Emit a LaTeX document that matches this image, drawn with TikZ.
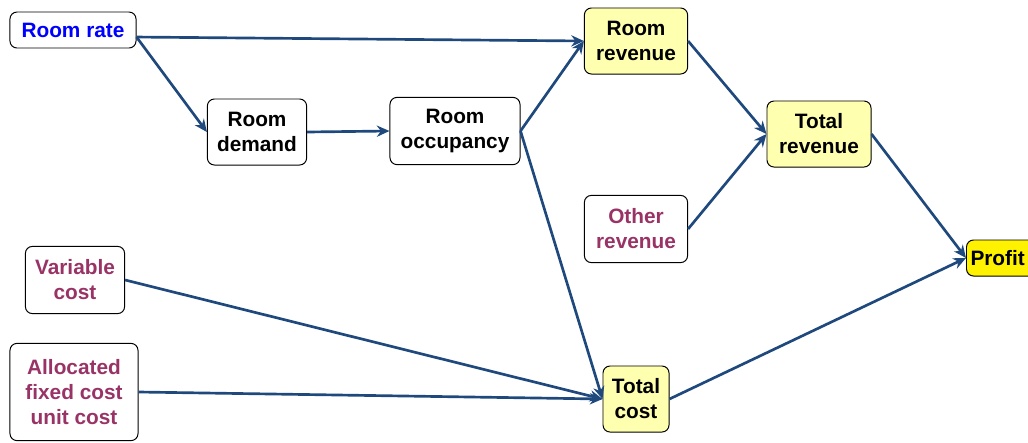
\documentclass[tikz,border=0pt]{standalone}
\usepackage{fontspec}
\setmainfont{Liberation Sans}
\usetikzlibrary{positioning,arrows.meta}

\definecolor{linkblue}{RGB}{31,73,125}
\definecolor{inblue}{RGB}{0,0,255}
\definecolor{inred}{RGB}{153,51,102}
\definecolor{paleyellow}{RGB}{255,255,176}

\tikzset{
    box/.style={draw, rounded corners=5pt, line width=.7pt, align=center, inner sep=0pt,
        font=\fontsize{14.8}{17.8}\selectfont\bfseries},
    calc/.style={box, fill=paleyellow},
    link/.style={linkblue, line width=1.9pt, -{Stealth[length=9pt,width=8pt]}},
}

\begin{document}
\begin{tikzpicture}[x=.025cm, y=-.025cm]
    \useasboundingbox (0,0) rectangle (1028,442);

    % inputs
    \node[box, text=inblue, minimum width=3.15cm, minimum height=.9cm] (rate) at (73,30) {Room rate};
    \node[box, text=inred, minimum width=2.48cm, minimum height=1.68cm] (varcost) at (75,280) {Variable\\cost};
    \node[box, text=inred, minimum width=3.2cm, minimum height=2.43cm] (fixcost) at (74,392) {Allocated\\fixed cost\\unit cost};
    \node[box, text=inred, minimum width=2.58cm, minimum height=1.68cm] (otherrev) at (636,229) {Other\\revenue};

    % intermediate
    \node[box, minimum width=2.48cm, minimum height=1.65cm] (demand) at (257,132) {Room\\demand};
    \node[box, minimum width=3.25cm, minimum height=1.68cm] (occ) at (455,131) {Room\\occupancy};
    \node[calc, minimum width=2.58cm, minimum height=1.65cm] (roomrev) at (636,41) {Room\\revenue};
    \node[calc, minimum width=2.6cm, minimum height=1.65cm] (totrev) at (819,134) {Total\\revenue};
    \node[calc, minimum width=1.65cm, minimum height=1.65cm] (totcost) at (636,399) {Total\\cost};
    \node[box, fill=yellow, anchor=west, minimum width=2cm, minimum height=.9cm, text width=1.8cm, align=left] (profit) at (966,258) {Profit};

    \draw[link] ([yshift=-5pt]rate.east) -- (roomrev.west);
    \draw[link] ([yshift=-5pt]rate.east) -- (demand.west);
    \draw[link] (demand.east) -- (occ.west);
    \draw[link] (occ.east) -- (roomrev.west);
    \draw[link] (occ.east) -- (totcost.west);
    \draw[link] (varcost.east) -- (totcost.west);
    \draw[link] (fixcost.east) -- (totcost.west);
    \draw[link] (roomrev.east) -- (totrev.west);
    \draw[link] (otherrev.east) -- (totrev.west);
    \draw[link] (totrev.east) -- (profit.west);
    \draw[link] (totcost.east) -- (profit.west);
\end{tikzpicture}
\end{document}
